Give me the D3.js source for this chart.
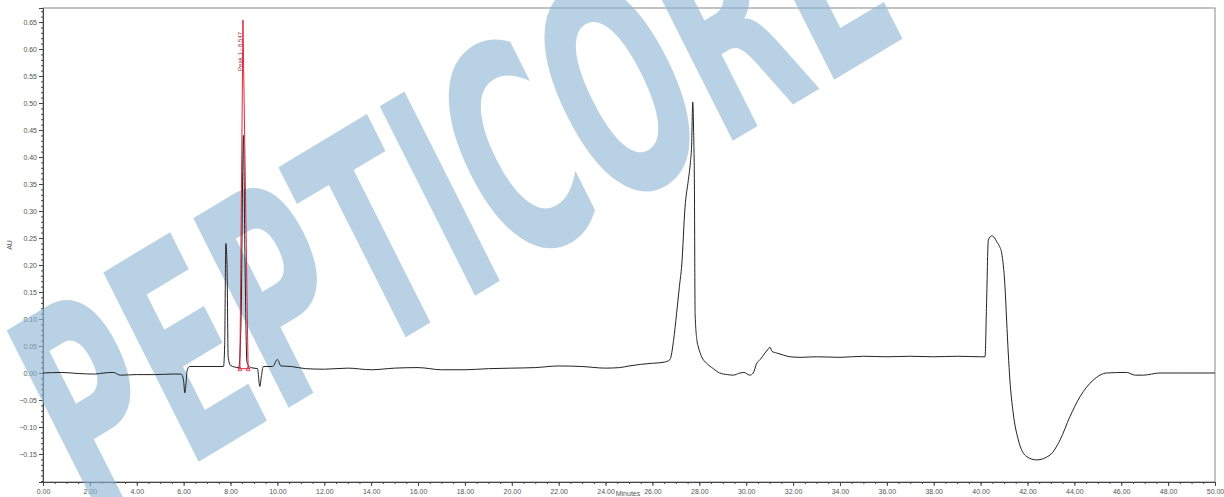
<!DOCTYPE html>
<html>
<head>
<meta charset="utf-8">
<script src="https://cdn.jsdelivr.net/npm/d3@7"></script>
<style>
  body { margin: 0; background: #fff; }
  svg { display: block; font-family: "Liberation Sans", Arial, sans-serif; }
  .axis text { fill: #555; font-size: 7px; }
  .axis path, .axis line { stroke: #444; }
</style>
</head>
<body>
<div id="chart"></div>
<script>
// retention time (min) / absorbance (AU)
const traceTime = [0.0, 0.8, 1.5, 2.2, 2.6, 3.0, 3.3, 4.0, 4.8, 5.5, 5.9, 6.0, 6.05, 6.1, 6.15, 6.25, 7.0, 7.7, 7.75, 7.8, 7.85, 7.9, 8.0, 8.35, 8.45, 8.55, 8.62, 8.7, 8.85, 9.15, 9.25, 9.32, 9.4, 9.8, 10.0, 10.15, 10.6, 11.2, 12.0, 13.0, 14.0, 15.0, 16.0, 17.0, 18.0, 19.0, 20.0, 21.0, 22.0, 23.0, 24.0, 24.6, 25.0, 25.5, 26.0, 26.5, 26.75, 26.9, 27.03, 27.15, 27.25, 27.39, 27.53, 27.62, 27.67, 27.72, 27.76, 27.79, 27.82, 27.9, 27.96, 28.1, 28.31, 28.6, 28.87, 29.2, 29.44, 29.74, 29.9, 30.16, 30.3, 30.45, 30.6, 30.8, 30.95, 31.01, 31.1, 31.3, 31.6, 31.87, 32.3, 33.0, 34.0, 35.0, 36.0, 37.0, 38.0, 39.0, 40.0, 40.19, 40.25, 40.33, 40.47, 40.6, 40.69, 40.8, 40.9, 41.04, 41.11, 41.18, 41.25, 41.39, 41.61, 41.97, 42.39, 42.96, 43.39, 43.81, 44.24, 44.81, 45.38, 46.23, 46.6, 46.94, 47.65, 48.5, 50.0];
const traceAU = [0.000, 0.001, -0.001, -0.002, 0.000, 0.001, -0.004, -0.003, -0.003, -0.002, -0.002, -0.015, -0.037, -0.020, 0.005, 0.012, 0.012, 0.012, 0.05, 0.24, 0.20, 0.03, 0.014, 0.010, 0.10, 0.44, 0.20, 0.02, 0.010, 0.008, -0.025, -0.005, 0.012, 0.012, 0.025, 0.013, 0.012, 0.008, 0.007, 0.009, 0.006, 0.009, 0.010, 0.006, 0.006, 0.008, 0.009, 0.010, 0.013, 0.012, 0.009, 0.010, 0.013, 0.016, 0.018, 0.020, 0.025, 0.06, 0.11, 0.16, 0.20, 0.307, 0.357, 0.39, 0.42, 0.502, 0.44, 0.35, 0.11, 0.06, 0.048, 0.030, 0.018, 0.008, 0.000, -0.003, -0.004, 0.000, 0.001, -0.004, 0.000, 0.018, 0.025, 0.037, 0.045, 0.048, 0.040, 0.037, 0.033, 0.030, 0.029, 0.030, 0.029, 0.031, 0.030, 0.031, 0.030, 0.031, 0.030, 0.030, 0.12, 0.246, 0.254, 0.250, 0.243, 0.235, 0.222, 0.16, 0.098, 0.037, -0.013, -0.074, -0.124, -0.155, -0.161, -0.152, -0.124, -0.081, -0.044, -0.013, 0.000, 0.001, -0.004, -0.004, 0.000, 0.000, 0.000];

// integrated peak (red) outline
const peakTime = [8.40, 8.53, 8.75];
const peakAU = [0.008, 0.654, 0.008];
const peakLabel = "Peak 1 - 8.547";

const yTicks = [-0.15, -0.10, -0.05, 0.00, 0.05, 0.10, 0.15, 0.20, 0.25, 0.30, 0.35, 0.40, 0.45, 0.50, 0.55, 0.60, 0.65];
const xTicks = [0, 2, 4, 6, 8, 10, 12, 14, 16, 18, 20, 22, 24, 26, 28, 30, 32, 34, 36, 38, 40, 42, 44, 46, 48, 50];

const W = 1224, H = 497;
const plot = { left: 43, right: 1215, top: 8, bottom: 482 };

const svg = d3.select("#chart").append("svg").attr("width", W).attr("height", H);

const x = d3.scaleLinear().domain([0, 50]).range([plot.left, plot.right]);
const y = d3.scaleLinear().domain([-0.2019, 0.676]).range([plot.bottom, plot.top]);

// frame
svg.append("rect")
  .attr("x", plot.left).attr("y", plot.top)
  .attr("width", plot.right - plot.left).attr("height", plot.bottom - plot.top)
  .attr("fill", "none").attr("stroke", "#888").attr("stroke-width", 1);

// minor ticks
svg.append("g").attr("class", "axis")
  .attr("transform", `translate(${plot.left},0)`)
  .call(d3.axisLeft(y).tickValues(d3.range(-20, 68).map(d => d / 100)).tickSize(2).tickFormat(""))
  .call(g => g.select(".domain").remove());
svg.append("g").attr("class", "axis")
  .attr("transform", `translate(0,${plot.bottom})`)
  .call(d3.axisBottom(x).tickValues(d3.range(0, 101).map(d => d / 2)).tickSize(2).tickFormat(""))
  .call(g => g.select(".domain").remove());

// major axes
svg.append("g").attr("class", "axis")
  .attr("transform", `translate(${plot.left},0)`)
  .call(d3.axisLeft(y).tickValues(yTicks).tickSize(4).tickPadding(2).tickFormat(d3.format(".2f")));
svg.append("g").attr("class", "axis")
  .attr("transform", `translate(0,${plot.bottom})`)
  .call(d3.axisBottom(x).tickValues(xTicks).tickSize(4).tickPadding(3).tickFormat(d3.format(".2f")));

// axis titles
svg.append("text")
  .attr("transform", `translate(12,${(plot.top + plot.bottom) / 2}) rotate(-90)`)
  .attr("text-anchor", "middle").attr("font-size", 7).attr("fill", "#555")
  .text("AU");
svg.append("text")
  .attr("x", 628).attr("y", 496)
  .attr("text-anchor", "middle").attr("font-size", 7).attr("fill", "#555")
  .text("Minutes");

// watermark (behind the traces)
svg.append("text")
  .attr("transform", "translate(90,527) rotate(-31) scale(0.53,1) skewX(-8)")
  .attr("font-family", "DejaVu Sans, sans-serif")
  .attr("font-weight", "bold")
  .attr("font-size", 290)
  .attr("fill", "rgb(140,180,212)")
  .attr("fill-opacity", 0.62)
  .text("PEPTICORE");

const line = d3.line().x(d => x(d[0])).y(d => y(d[1]));

// chromatogram
svg.append("path")
  .datum(d3.zip(traceTime, traceAU))
  .attr("fill", "none").attr("stroke", "#222").attr("stroke-width", 1)
  .attr("d", line.curve(d3.curveMonotoneX));

// red peak marks
const peakPts = d3.zip(peakTime, peakAU);
svg.append("path")
  .datum(peakPts)
  .attr("fill", "none").attr("stroke", "#e0283a").attr("stroke-width", 1)
  .attr("d", d3.line().x(d => x(d[0])).y(d => y(d[1])));
svg.append("line")
  .attr("x1", x(peakTime[0]) - 2).attr("x2", x(peakTime[2]) + 2)
  .attr("y1", y(peakAU[0])).attr("y2", y(peakAU[2]))
  .attr("stroke", "#e0283a").attr("stroke-width", 1);
svg.selectAll(".pmark")
  .data([peakPts[0], peakPts[2]])
  .join("path")
  .attr("class", "pmark")
  .attr("d", d => `M${x(d[0]) - 2},${y(d[1]) + 2}L${x(d[0])},${y(d[1]) - 2}L${x(d[0]) + 2},${y(d[1]) + 2}Z`)
  .attr("fill", "none").attr("stroke", "#e0283a").attr("stroke-width", 0.8);
svg.append("text")
  .attr("transform", `translate(${x(peakTime[1]) - 1},${y(peakAU[1]) + 12}) rotate(-90)`)
  .attr("text-anchor", "end").attr("font-size", 6).attr("fill", "#a03040")
  .text(peakLabel);
</script>
</body>
</html>
